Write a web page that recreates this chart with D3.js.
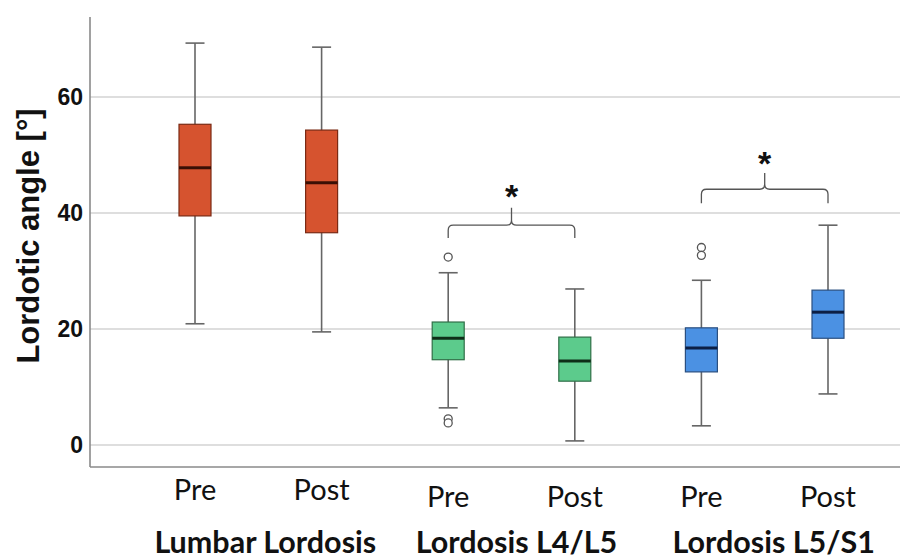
<!DOCTYPE html>
<html><head><meta charset="utf-8">
<script src="https://cdn.jsdelivr.net/npm/d3@7"></script>
<style>body{margin:0;background:#fff}svg{display:block}</style>
</head><body><svg id="c" width="900" height="559"></svg>
<script>
// ---- data ----
const boxIds   = ["LL-Pre","LL-Post","L45-Pre","L45-Post","L51-Pre","L51-Post"];
const phases   = ["Pre","Post","Pre","Post","Pre","Post"];
const groupOf  = ["Lumbar Lordosis","Lumbar Lordosis","Lordosis L4/L5","Lordosis L4/L5","Lordosis L5/S1","Lordosis L5/S1"];
const whiskLo  = [20.9, 19.5, 6.4, 0.7, 3.3, 8.8];
const q1       = [39.5, 36.6, 14.7, 11.0, 12.6, 18.4];
const median   = [47.8, 45.2, 18.4, 14.5, 16.7, 22.9];
const q3       = [55.3, 54.3, 21.2, 18.6, 20.2, 26.7];
const whiskHi  = [69.3, 68.6, 29.7, 26.9, 28.4, 37.9];
const outliers = [[], [], [32.4, 4.5, 3.8], [], [34.05, 32.7], []];
const groups   = ["Lumbar Lordosis","Lordosis L4/L5","Lordosis L5/S1"];
const yTicks   = [0, 20, 40, 60];
const yTitle   = "Lordotic angle [°]";
// significance brackets: from box, to box, end level, bar level, peak level, star level
const sigFrom  = ["L45-Pre","L51-Pre"];
const sigTo    = ["L45-Post","L51-Post"];
const sigEnd   = [35.7, 41.7];
const sigBar   = [37.9, 44.1];
const sigPeak  = [40.9, 46.9];
const sigStar  = [44.0, 49.7];

// ---- styles ----
const fillFor   = {"Lumbar Lordosis":"#d6532f","Lordosis L4/L5":"#5ccb8c","Lordosis L5/S1":"#4b91e3"};
const strokeFor = {"Lumbar Lordosis":"#7a2a14","Lordosis L4/L5":"#2f6e47","Lordosis L5/S1":"#2a4f80"};
const medFor    = {"Lumbar Lordosis":"#3a0f05","Lordosis L4/L5":"#0e2e18","Lordosis L5/S1":"#0c1f45"};

const svg = d3.select("#c");
const x = d3.scalePoint().domain(boxIds).range([195, 828]);
const y = d3.scaleLinear().domain([-3.8, 73.8]).range([467, 17]);
const L = 90, R = 900;

// gridlines
svg.append("g").selectAll("line").data(yTicks).join("line")
  .attr("x1", L).attr("x2", R).attr("y1", d=>y(d)).attr("y2", d=>y(d))
  .attr("stroke", "#d3d3d3").attr("stroke-width", 1.6);

// y axis
const yAxis = svg.append("g").attr("transform", `translate(${L},0)`)
  .call(d3.axisLeft(y).tickValues(yTicks).tickSize(0).tickPadding(7).tickFormat(d3.format("d")));
yAxis.select(".domain").remove();
yAxis.selectAll("text").attr("font-family","'Liberation Sans', Arial, sans-serif")
  .attr("font-weight","bold").attr("font-size",23).attr("fill","#111");

// axis lines
svg.append("line").attr("x1",L).attr("x2",L).attr("y1",y(73.8)).attr("y2",y(-3.8))
  .attr("stroke","#8a8a8a").attr("stroke-width",1.6);
svg.append("line").attr("x1",L).attr("x2",R).attr("y1",y(-3.8)).attr("y2",y(-3.8))
  .attr("stroke","#8a8a8a").attr("stroke-width",1.6);

// y title
svg.append("text").attr("transform",`translate(39,${(y(73.8)+y(-3.8))/2 - 6}) rotate(-90)`)
  .attr("text-anchor","middle").attr("font-family","'Liberation Sans', Arial, sans-serif")
  .attr("font-weight","bold").attr("font-size",31).attr("fill","#111").text(yTitle);

// boxes
const bw = 32, cw = 19;
const boxes = svg.append("g").selectAll("g").data(boxIds).join("g");
boxes.append("line").attr("x1",d=>x(d)).attr("x2",d=>x(d))
  .attr("y1",(d,i)=>y(whiskHi[i])).attr("y2",(d,i)=>y(whiskLo[i]))
  .attr("stroke","#666").attr("stroke-width",1.6);
boxes.append("line").attr("x1",d=>x(d)-cw/2).attr("x2",d=>x(d)+cw/2)
  .attr("y1",(d,i)=>y(whiskHi[i])).attr("y2",(d,i)=>y(whiskHi[i]))
  .attr("stroke","#666").attr("stroke-width",1.6);
boxes.append("line").attr("x1",d=>x(d)-cw/2).attr("x2",d=>x(d)+cw/2)
  .attr("y1",(d,i)=>y(whiskLo[i])).attr("y2",(d,i)=>y(whiskLo[i]))
  .attr("stroke","#666").attr("stroke-width",1.6);
boxes.append("rect").attr("x",d=>x(d)-bw/2).attr("width",bw)
  .attr("y",(d,i)=>y(q3[i])).attr("height",(d,i)=>y(q1[i])-y(q3[i]))
  .attr("fill",(d,i)=>fillFor[groupOf[i]]).attr("stroke",(d,i)=>strokeFor[groupOf[i]]).attr("stroke-width",1.2);
boxes.append("line").attr("x1",d=>x(d)-bw/2).attr("x2",d=>x(d)+bw/2)
  .attr("y1",(d,i)=>y(median[i])).attr("y2",(d,i)=>y(median[i]))
  .attr("stroke",(d,i)=>medFor[groupOf[i]]).attr("stroke-width",3);
boxes.each(function(d,i){
  d3.select(this).selectAll("circle").data(outliers[i]).join("circle")
    .attr("cx",x(d)).attr("cy",v=>y(v)).attr("r",4)
    .attr("fill","#fff").attr("stroke","#555").attr("stroke-width",1.3);
});

// significance brackets
sigFrom.forEach((f,k)=>{
  const xl = x(f), xr = x(sigTo[k]), xm = (xl+xr)/2;
  const ye = y(sigEnd[k]), yh = y(sigBar[k]), yp = y(sigPeak[k]), r = 5;
  const p = d3.path();
  p.moveTo(xl, ye); p.lineTo(xl, yh+r); p.quadraticCurveTo(xl, yh, xl+r, yh);
  p.lineTo(xm-r, yh); p.quadraticCurveTo(xm, yh, xm, yh-r); p.lineTo(xm, yp);
  p.moveTo(xm, yh-r); p.quadraticCurveTo(xm, yh, xm+r, yh);
  p.lineTo(xr-r, yh); p.quadraticCurveTo(xr, yh, xr, yh+r); p.lineTo(xr, ye);
  svg.append("path").attr("d",p.toString()).attr("fill","none").attr("stroke","#555").attr("stroke-width",1.3);
  svg.append("text").attr("x",xm).attr("y",y(sigStar[k])+18).attr("text-anchor","middle")
    .attr("font-family","'Liberation Sans', Arial, sans-serif").attr("font-weight","bold")
    .attr("font-size",34).attr("fill","#111").text("*");
});

// x labels
const phaseBase = [500, 500, 507, 507, 507, 507];
svg.append("g").selectAll("text").data(boxIds).join("text")
  .attr("x",d=>x(d)).attr("y",(d,i)=>phaseBase[i]).attr("text-anchor","middle")
  .attr("font-family","Lato, sans-serif").attr("font-size",29).attr("fill","#111")
  .text((d,i)=>phases[i]);
const groupDx = [7, 5, 9];
svg.append("g").selectAll("text").data(groups).join("text")
  .attr("x",(g,k)=>{const ids=boxIds.filter((d,i)=>groupOf[i]===g); return (x(ids[0])+x(ids[1]))/2+groupDx[k];})
  .attr("y",553).attr("text-anchor","middle")
  .attr("font-family","Lato, sans-serif").attr("font-weight","bold").attr("font-size",30.5).attr("fill","#111")
  .text(g=>g);
</script></body></html>
